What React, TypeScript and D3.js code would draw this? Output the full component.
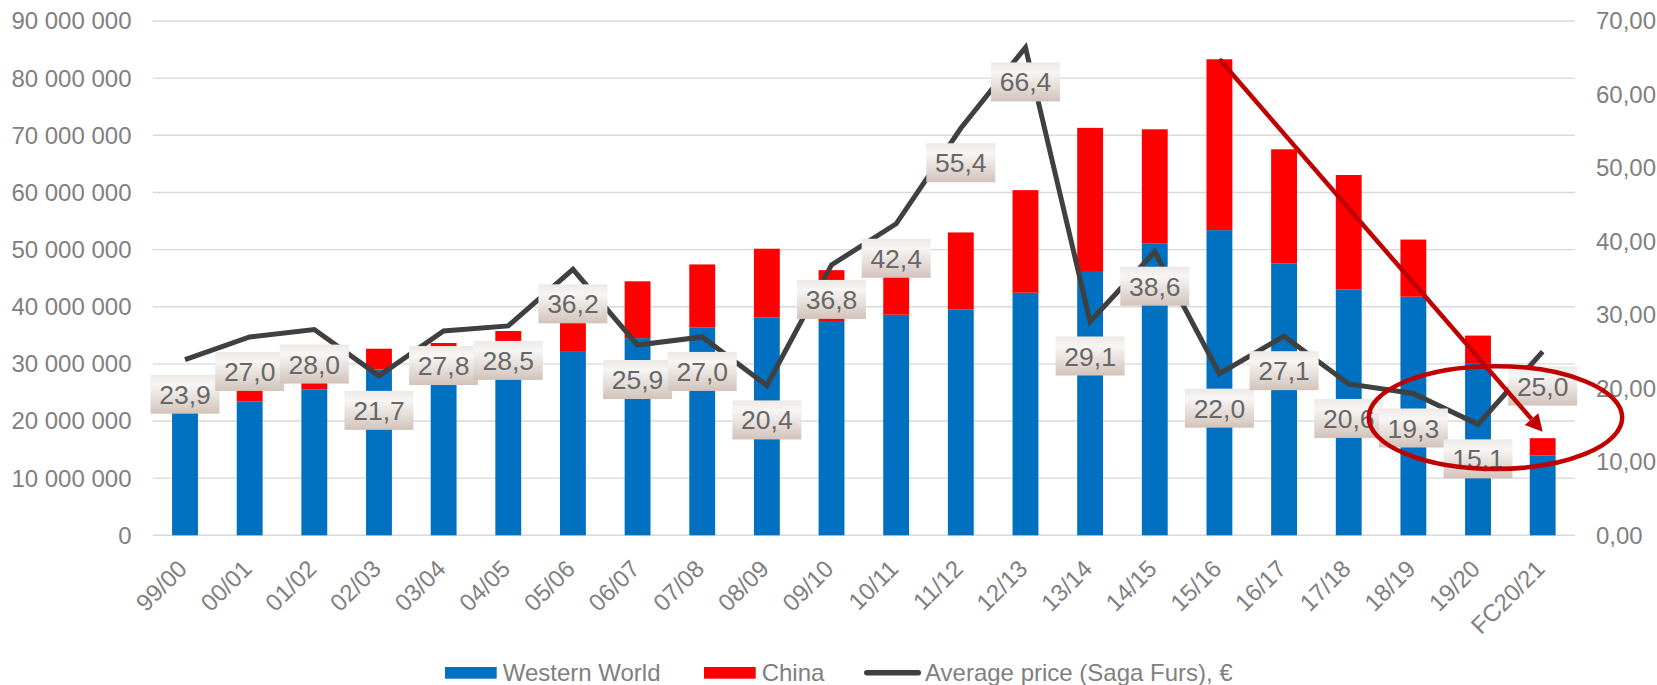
import React from "react";
import * as d3 from "d3";

const categories = ["99/00","00/01","01/02","02/03","03/04","04/05","05/06","06/07","07/08","08/09","09/10","10/11","11/12","12/13","13/14","14/15","15/16","16/17","17/18","18/19","19/20","FC20/21"];
const westernWorld = [21.8e6,23.45e6,25.55e6,29.0e6,32.8e6,34.0e6,32.1e6,34.5e6,36.4e6,38.15e6,37.5e6,38.6e6,39.55e6,42.45e6,46.25e6,51.1e6,53.4e6,47.6e6,43.05e6,41.75e6,30.0e6,13.95e6];
const china = [0,2.3e6,1.95e6,3.65e6,0.85e6,1.75e6,7.9e6,9.95e6,11.0e6,12.0e6,8.9e6,9.4e6,13.45e6,17.95e6,25.05e6,19.95e6,29.9e6,19.95e6,20.0e6,10.0e6,4.95e6,3.05e6];
const avgPrice = [23.9,27.0,28.0,21.7,27.8,28.5,36.2,25.9,27.0,20.4,36.8,42.4,55.4,66.4,29.1,38.6,22.0,27.1,20.6,19.3,15.1,25.0];
const leftTicks = [0,10e6,20e6,30e6,40e6,50e6,60e6,70e6,80e6,90e6];
const rightTicks = [0,10,20,30,40,50,60,70];
const seriesNames = ["Western World","China","Average price (Saga Furs), €"];

// annotations (in data terms)
const arrowFrom = { cat: "15/16", value: 83.3e6 };
const arrowTo = { cat: "FC20/21", value: 18.1e6 };
const ellipseAnno = { cat: "19/20", offsetBands: 0.27, value: 20.6e6, rxBands: 1.96, ryValue: 9.0e6 };

const W = 1657, H = 685;
const L = 152.7, R = 1575, TOP = 21, BOT = 535.3;
const FONT = "'Liberation Sans', Arial, sans-serif";
const BLUE = "#0070C0", RED = "#FF0000", LINE = "#404040", DARKRED = "#C00000";

export default function App() {
  const x = d3.scaleBand<string>().domain(categories).range([L, R]).paddingInner(0.6).paddingOuter(0.3);
  const yL = d3.scaleLinear().domain([0, 90e6]).range([BOT, TOP]);
  const yR = d3.scaleLinear().domain([0, 70]).range([BOT, TOP]);
  const cx = (c: string) => (x(c) as number) + x.bandwidth() / 2;
  const step = x.step();

  const leftFmt = (v: number) => d3.format(",")(v).replace(/,/g, " ");
  const rightFmt = (v: number) => d3.format(".2f")(v).replace(".", ",");
  const lblFmt = (v: number) => d3.format(".1f")(v).replace(".", ",");

  const lineGen = d3.line<number>().x((_, i) => cx(categories[i])).y((d) => yR(d));

  // arrow
  const ax1 = cx(arrowFrom.cat), ay1 = yL(arrowFrom.value);
  const ax2 = cx(arrowTo.cat), ay2 = yL(arrowTo.value);
  const ang = Math.atan2(ay2 - ay1, ax2 - ax1);
  const headLen = 17, headHalf = 9;
  const bx = ax2 - headLen * Math.cos(ang), by = ay2 - headLen * Math.sin(ang);
  const px = -Math.sin(ang), py = Math.cos(ang);
  const head = `M${ax2},${ay2} L${bx + px * headHalf},${by + py * headHalf} L${bx - px * headHalf},${by - py * headHalf} Z`;

  const ecx = cx(ellipseAnno.cat) + ellipseAnno.offsetBands * step;
  const ecy = yL(ellipseAnno.value);
  const erx = ellipseAnno.rxBands * step;
  const ery = yL(0) - yL(ellipseAnno.ryValue);

  const boxW = 69, boxH = 39;

  // legend layout
  const legY = 673;
  const legItems = [
    { name: seriesNames[0], x: 445, kind: "rect", color: BLUE },
    { name: seriesNames[1], x: 704, kind: "rect", color: RED },
    { name: seriesNames[2], x: 864.3, kind: "line", color: LINE },
  ];

  return (
    <svg width={W} height={H} style={{ position: "absolute", left: 0, top: 0, background: "#fff" }} fontFamily={FONT}>
      <defs>
        <linearGradient id="lblGrad" x1="0" y1="0" x2="0" y2="1">
          <stop offset="0%" stopColor="#ece8e5" />
          <stop offset="25%" stopColor="#f7f6f5" />
          <stop offset="100%" stopColor="#d2c3ba" />
        </linearGradient>
      </defs>
      <rect x={0} y={0} width={W} height={H} fill="#fff" />
      {/* gridlines */}
      {leftTicks.map((t) => (
        <line key={"g" + t} x1={L} x2={R} y1={yL(t)} y2={yL(t)} stroke="#d9d9d9" strokeWidth={1.4} />
      ))}
      {/* left axis labels */}
      {leftTicks.map((t) => (
        <text key={"l" + t} x={131.5} y={yL(t)} dy="0.35em" textAnchor="end" fontSize={24} fill="#808080">{leftFmt(t)}</text>
      ))}
      {/* right axis labels */}
      {rightTicks.map((t) => (
        <text key={"r" + t} x={1596} y={yR(t)} dy="0.35em" textAnchor="start" fontSize={24} fill="#808080">{rightFmt(t)}</text>
      ))}
      {/* bars */}
      {categories.map((c, i) => (
        <g key={"b" + c}>
          <rect x={x(c)} y={yL(westernWorld[i])} width={x.bandwidth()} height={yL(0) - yL(westernWorld[i])} fill={BLUE} />
          {china[i] > 0 && (
            <rect x={x(c)} y={yL(westernWorld[i] + china[i])} width={x.bandwidth()} height={yL(westernWorld[i]) - yL(westernWorld[i] + china[i])} fill={RED} />
          )}
        </g>
      ))}
      {/* x labels */}
      {categories.map((c) => (
        <text key={"x" + c} transform={`translate(${cx(c) + 3.5},${570.3}) rotate(-45)`} textAnchor="end" fontSize={24} fill="#808080">{c}</text>
      ))}
      {/* line */}
      <path d={lineGen(avgPrice) || ""} fill="none" stroke={LINE} strokeWidth={5} strokeLinejoin="miter" strokeMiterlimit={4} strokeLinecap="butt" />
      {/* data labels */}
      {categories.map((c, i) => {
        const top = yR(avgPrice[i]) + 15;
        return (
          <g key={"d" + c}>
            <rect x={cx(c) - boxW / 2} y={top} width={boxW} height={boxH} fill="url(#lblGrad)" />
            <text x={cx(c)} y={top + boxH / 2} dy="0.36em" textAnchor="middle" fontSize={26.5} fill="#676767">{lblFmt(avgPrice[i])}</text>
          </g>
        );
      })}
      {/* annotations */}
      <ellipse cx={ecx} cy={ecy} rx={erx} ry={ery} fill="none" stroke={DARKRED} strokeWidth={4.5} />
      <line x1={ax1} y1={ay1} x2={bx} y2={by} stroke={DARKRED} strokeWidth={4.5} />
      <path d={head} fill={DARKRED} />
      {/* legend */}
      {legItems.map((it) => (
        <g key={"lg" + it.name}>
          {it.kind === "rect" ? (
            <rect x={it.x} y={legY - 6} width={51.7} height={11.7} fill={it.color} />
          ) : (
            <line x1={it.x + 2.5} x2={it.x + 54} y1={legY - 0.3} y2={legY - 0.3} stroke={it.color} strokeWidth={5.5} strokeLinecap="round" />
          )}
          <text x={it.x + (it.kind === "rect" ? 57.7 : 60.7)} y={680.7} fontSize={24} fill="#808080">{it.name}</text>
        </g>
      ))}
    </svg>
  );
}
